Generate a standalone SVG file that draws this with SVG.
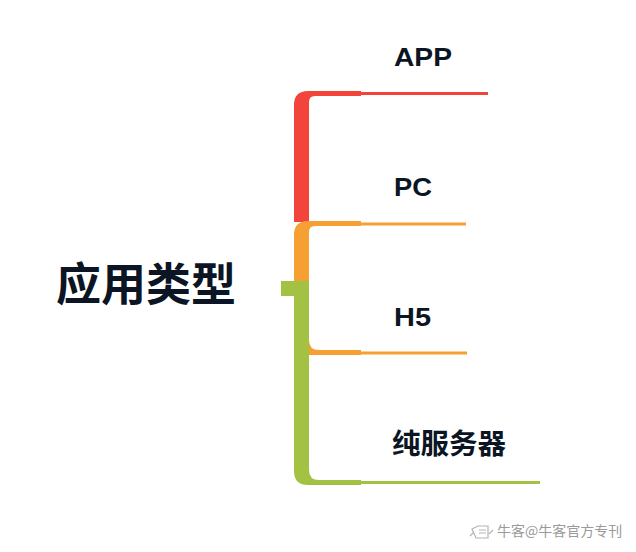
<svg xmlns="http://www.w3.org/2000/svg" width="636" height="552" viewBox="0 0 636 552">
<style>
.lbl{font-family:"Liberation Sans","Noto Sans CJK SC",sans-serif;font-weight:bold;fill:#0b1523}
.cjk{font-family:"Noto Sans CJK SC","Liberation Sans",sans-serif;font-weight:bold;fill:#0b1523}
.red{fill:#f2443a}
.org{fill:#f6a033}
.grn{fill:#a3c244}
.wm{font-family:"Noto Sans CJK SC","Liberation Sans",sans-serif;fill:#9a9a9a;font-size:14px}
</style>
<rect width="636" height="552" fill="#ffffff"/>
<g id="connectors">
  <path class="red" d="M294,105 Q294,91 308,91 L361,91 L361,96 L315,96 Q309,96 309,102 L309,222 L294,222 Z"/>
  <rect class="red" x="361" y="92" width="127" height="3"/>
  <path class="org" d="M294,235 Q294,221 308,221 L361,221 L361,226 L315,226 Q309,226 309,232 L309,281 L294,281 Z"/>
  <rect class="org" x="361" y="222.5" width="105" height="3"/>
  <path class="org" d="M309,340 Q309,350 319,350 L361,350 L361,355 L309,355 Z"/>
  <rect class="org" x="361" y="351.5" width="106" height="3"/>
  <path class="grn" d="M294,281 L309,281 L309,470 Q309,480 319,480 L361,480 L361,485 L308,485 Q294,485 294,471 Z"/>
  <rect class="grn" x="281" y="281" width="28" height="15"/>
  <rect class="grn" x="361" y="481" width="179" height="3"/>
</g>
<g id="root"><text class="cjk" x="56" y="301" font-size="45">应用类型</text></g>
<g id="node-app"><text class="lbl" x="394" y="66" font-size="26" textLength="58" lengthAdjust="spacingAndGlyphs">APP</text></g>
<g id="node-pc"><text class="lbl" x="394" y="196" font-size="26" textLength="38" lengthAdjust="spacingAndGlyphs">PC</text></g>
<g id="node-h5"><text class="lbl" x="394" y="326" font-size="26" textLength="37" lengthAdjust="spacingAndGlyphs">H5</text></g>
<g id="node-server"><text class="cjk" x="392" y="454" font-size="28.5">纯服务器</text></g>
<g id="watermark">
  <g fill="none" stroke="#b5b5b5" stroke-width="1.2">
    <path d="M472,529 L478,526 L488,526 L488,538 L476,538 Z"/>
    <path d="M479,530 L486,530 M479,533 L486,533"/>
    <path d="M470,536 L474,532 M489,534 L493,530"/>
  </g>
  <text class="wm" x="497" y="536">牛客@牛客官方专刊</text>
</g>
</svg>
